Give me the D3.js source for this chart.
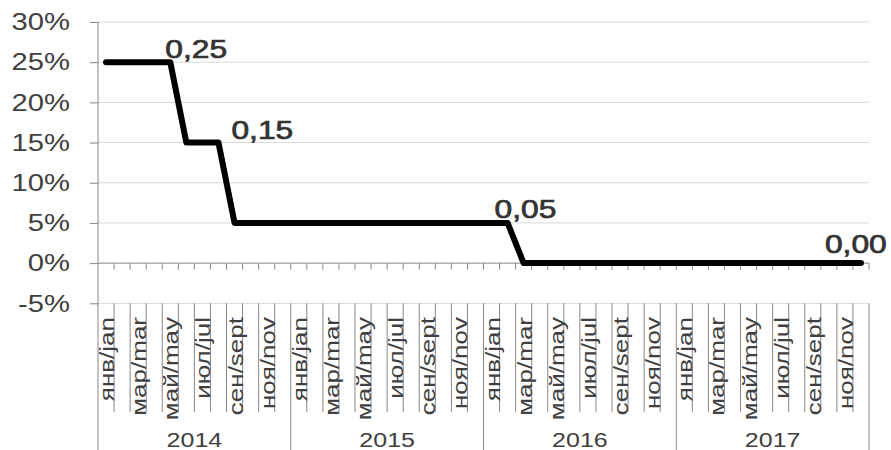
<!DOCTYPE html>
<html>
<head>
<meta charset="utf-8">
<script src="https://cdn.jsdelivr.net/npm/d3@7"></script>
<style>
  html, body { margin: 0; padding: 0; background: #ffffff; }
  svg { display: block; }
  text { font-family: "Liberation Sans", Arial, sans-serif; fill: #404040; }
</style>
</head>
<body>
<svg id="chart" width="891" height="450"></svg>
<script>
// Monthly policy rate, Jan 2014 – Dec 2017
const years = ["2014", "2015", "2016", "2017"];
const monthNames = ["янв/jan", "фев/feb", "мар/mar", "апр/apr", "май/may", "июн/jun",
                    "июл/jul", "авг/aug", "сен/sept", "окт/oct", "ноя/nov", "дек/dec"];
const rate2014 = [0.25, 0.25, 0.25, 0.25, 0.25, 0.15, 0.15, 0.15, 0.05, 0.05, 0.05, 0.05];
const rate2015 = [0.05, 0.05, 0.05, 0.05, 0.05, 0.05, 0.05, 0.05, 0.05, 0.05, 0.05, 0.05];
const rate2016 = [0.05, 0.05, 0.00, 0.00, 0.00, 0.00, 0.00, 0.00, 0.00, 0.00, 0.00, 0.00];
const rate2017 = [0.00, 0.00, 0.00, 0.00, 0.00, 0.00, 0.00, 0.00, 0.00, 0.00, 0.00, 0.00];
const yTicks = [-0.05, 0, 0.05, 0.10, 0.15, 0.20, 0.25, 0.30];
// months (index into the series) that carry a value label
const labelledMonths = [4, 7, 25, 47];

// label placement relative to its point: [dx, dy]
const labelNudge = [[-5, -4], [13, -4], [-13, -5], [-36, -10]];

(function () {
  const rates = [].concat(rate2014, rate2015, rate2016, rate2017);
  const data = rates.map((v, i) => ({
    i, year: years[Math.floor(i / 12)], month: monthNames[i % 12], value: v
  }));

  const svg = d3.select("#chart");
  const W = 891, H = 450;
  const plotLeft = 98, plotRight = 869, plotTop = 22, plotBottom = 303.3;
  const stretch = 1.27;           // wide lettering
  const axisGrey = "#868686";

  const x = d3.scaleBand().domain(d3.range(data.length)).range([plotLeft, plotRight]).padding(0);
  const y = d3.scaleLinear().domain([-0.05, 0.30]).range([plotBottom, plotTop]);
  const xc = i => x(i) + x.bandwidth() / 2;
  const edge = i => i >= data.length ? plotRight : x(i);

  svg.append("rect").attr("width", W).attr("height", H).attr("fill", "#fff");

  // horizontal gridlines
  svg.append("g").selectAll("line").data(yTicks.filter(t => t !== 0)).join("line")
    .attr("x1", plotLeft).attr("x2", plotRight)
    .attr("y1", d => y(d)).attr("y2", d => y(d))
    .attr("stroke", "#d9d9d9").attr("stroke-width", 1);

  // value axis with outward ticks
  const yAxis = svg.append("g").attr("transform", `translate(${plotLeft},0)`)
    .call(d3.axisLeft(y).tickValues(yTicks).tickSize(8).tickFormat(""));
  yAxis.select(".domain").remove();
  yAxis.selectAll("line").attr("stroke", axisGrey);
  svg.append("line").attr("x1", plotLeft).attr("x2", plotLeft).attr("y1", plotTop).attr("y2", H)
    .attr("stroke", axisGrey);

  // y tick labels (plain hyphen for negatives)
  const pct = d3.formatLocale({ decimal: ",", thousands: " ", grouping: [3],
                                currency: ["", ""], minus: "-" }).format(".0%");
  svg.append("g").selectAll("text").data(yTicks).join("text")
    .attr("transform", d => `translate(70,${y(d) + 8.3}) scale(${stretch},1)`)
    .attr("text-anchor", "end")
    .style("font-size", "23px")
    .text(d => pct(d));

  // category axis at zero with tick marks at month boundaries
  const y0 = y(0);
  svg.append("line").attr("x1", plotLeft).attr("x2", plotRight).attr("y1", y0).attr("y2", y0)
    .attr("stroke", axisGrey);
  svg.append("g").selectAll("line").data(d3.range(1, data.length + 1)).join("line")
    .attr("x1", d => edge(d)).attr("x2", d => edge(d))
    .attr("y1", y0).attr("y2", y0 + 6.5)
    .attr("stroke", axisGrey);

  // month separators in the label band
  svg.append("g").selectAll("line").data(d3.range(1, data.length + 1)).join("line")
    .attr("x1", d => edge(d)).attr("x2", d => edge(d))
    .attr("y1", plotBottom).attr("y2", d => d % 12 === 0 ? H : 412)
    .attr("stroke", axisGrey);

  // month labels (every second month), read bottom to top
  svg.append("g").selectAll("text").data(data.filter(d => d.i % 2 === 0)).join("text")
    .attr("transform", d => `translate(${edge(d.i + 1)},317) rotate(-90) scale(1.3,1)`)
    .attr("text-anchor", "end")
    .style("font-size", "20px")
    .text(d => d.month);

  // year labels
  svg.append("g").selectAll("text").data(years).join("text")
    .attr("transform", (d, k) => {
      const cx = (edge(k * 12) + edge(k * 12 + 12)) / 2;
      return `translate(${cx},447) scale(1.22,1)`;
    })
    .attr("text-anchor", "middle")
    .style("font-size", "20.5px")
    .text(d => d);

  // rate line
  const line = d3.line().x(d => xc(d.i)).y(d => y(d.value));
  svg.append("path").datum(data)
    .attr("d", line)
    .attr("fill", "none")
    .attr("stroke", "#000")
    .attr("stroke-width", 6)
    .attr("stroke-linejoin", "round")
    .attr("stroke-linecap", "round");

  // value labels
  const fmt = v => d3.format(".2f")(v).replace(".", ",");
  svg.append("g").selectAll("text").data(labelledMonths).join("text")
    .attr("transform", (m, k) =>
      `translate(${xc(m) + labelNudge[k][0]},${y(data[m].value) + labelNudge[k][1]}) scale(1.27,1)`)
    .attr("text-anchor", "start")
    .style("font-size", "25px")
    .style("fill", "#333")
    .style("stroke", "#333")
    .style("stroke-width", "0.7px")
    .text(m => fmt(data[m].value));
})();
</script>
</body>
</html>
